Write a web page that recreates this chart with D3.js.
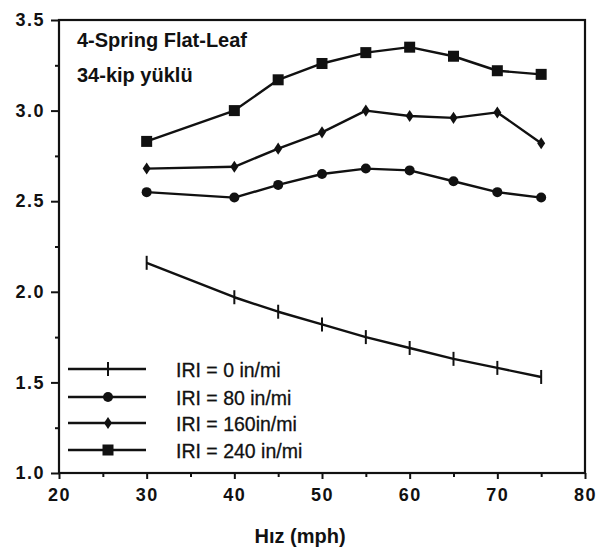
<!DOCTYPE html>
<html><head><meta charset="utf-8">
<script src="https://cdn.jsdelivr.net/npm/d3@7"></script>
<style>body{margin:0;background:#fff}svg{display:block}</style>
</head><body>
<script>
const speeds = [30, 40, 45, 50, 55, 60, 65, 70, 75];
const iri0   = [2.16, 1.97, 1.89, 1.82, 1.75, 1.69, 1.63, 1.58, 1.53];
const iri80  = [2.55, 2.52, 2.59, 2.65, 2.68, 2.67, 2.61, 2.55, 2.52];
const iri160 = [2.68, 2.69, 2.79, 2.88, 3.00, 2.97, 2.96, 2.99, 2.82];
const iri240 = [2.83, 3.00, 3.17, 3.26, 3.32, 3.35, 3.30, 3.22, 3.20];
const seriesNames = ["IRI = 0 in/mi", "IRI = 80 in/mi", "IRI = 160in/mi", "IRI = 240 in/mi"];
const seriesMarkers = ["cross", "circle", "diamond", "square"];
const xTicks = [20, 30, 40, 50, 60, 70, 80];
const yTicks = [1.0, 1.5, 2.0, 2.5, 3.0, 3.5];
const titleLines = ["4-Spring Flat-Leaf", "34-kip yüklü"];
const xLabel = "Hız (mph)";

const W = 603, H = 550;
const svg = d3.select("body").append("svg").attr("width", W).attr("height", H);
const x = d3.scaleLinear().domain([20, 80]).range([59, 585]);
const y = d3.scaleLinear().domain([1, 3.5]).range([473, 20]);
const font = "'Liberation Sans', Arial, sans-serif";
const ink = "#111";

// frame
svg.append("rect").attr("x", x(20)).attr("y", y(3.5)).attr("width", x(80) - x(20)).attr("height", y(1) - y(3.5))
  .attr("fill", "none").attr("stroke", ink).attr("stroke-width", 2.2);

// x axis
const xAx = svg.append("g").attr("transform", `translate(0,${y(1)})`)
  .call(d3.axisBottom(x).tickValues(xTicks).tickFormat(d3.format("d")).tickSize(6).tickPadding(9));
const xMinor = svg.append("g").attr("transform", `translate(0,${y(1)})`)
  .call(d3.axisBottom(x).tickValues(d3.range(25, 80, 10)).tickFormat("").tickSize(4));
// y axis
const yAx = svg.append("g").attr("transform", `translate(${x(20)},0)`)
  .call(d3.axisLeft(y).tickValues(yTicks).tickFormat(d3.format(".1f")).tickSize(8).tickPadding(6));
const yMinor = svg.append("g").attr("transform", `translate(${x(20)},0)`)
  .call(d3.axisLeft(y).tickValues(d3.range(1.25, 3.5, 0.5)).tickFormat("").tickSize(4));
[xAx, xMinor, yAx, yMinor].forEach(g => {
  g.select(".domain").remove();
  g.selectAll("line").attr("stroke", ink).attr("stroke-width", 2);
  g.selectAll("text").attr("font-family", font).attr("font-size", 18).attr("font-weight", "bold")
    .attr("fill", ink).attr("letter-spacing", 1.5);
});

// series
const allSeries = [iri0, iri80, iri160, iri240];
const line = d3.line().x((d, i) => x(speeds[i])).y(d => y(d));
function marker(g, type, cx, cy) {
  if (type === "cross") {
    g.append("line").attr("x1", cx).attr("x2", cx).attr("y1", cy - 7).attr("y2", cy + 7)
      .attr("stroke", ink).attr("stroke-width", 2);
  } else if (type === "circle") {
    g.append("circle").attr("cx", cx).attr("cy", cy).attr("r", 5).attr("fill", ink);
  } else if (type === "diamond") {
    g.append("path").attr("d", d3.symbol(d3.symbolDiamond, 42)()).attr("transform", `translate(${cx},${cy}) scale(1.15,1)`).attr("fill", ink);
  } else if (type === "square") {
    g.append("rect").attr("x", cx - 5.5).attr("y", cy - 5.5).attr("width", 11).attr("height", 11).attr("fill", ink);
  }
}
allSeries.forEach((vals, si) => {
  const g = svg.append("g");
  g.append("path").attr("d", line(vals)).attr("fill", "none").attr("stroke", ink).attr("stroke-width", 2.4)
    .attr("stroke-linejoin", "round");
  vals.forEach((v, i) => marker(g, seriesMarkers[si], x(speeds[i]), y(v)));
});

// legend
const legY = [369, 397, 423, 450];
seriesNames.forEach((name, i) => {
  const g = svg.append("g");
  g.append("line").attr("x1", 68).attr("x2", 146).attr("y1", legY[i]).attr("y2", legY[i])
    .attr("stroke", ink).attr("stroke-width", 2.4);
  marker(g, seriesMarkers[i], 108, legY[i]);
  g.append("text").attr("x", 176).attr("y", legY[i] + 7.5).text(name)
    .attr("font-family", font).attr("font-size", 19.5).attr("fill", ink).attr("stroke", ink).attr("stroke-width", 0.3);
});

// title text
const titleY = [47, 82];
titleLines.forEach((t, i) => {
  svg.append("text").attr("x", 77).attr("y", titleY[i]).text(t)
    .attr("font-family", font).attr("font-size", 20).attr("font-weight", "bold").attr("fill", ink);
});

// x label
svg.append("text").attr("x", 300).attr("y", 543).attr("text-anchor", "middle").text(xLabel)
  .attr("font-family", font).attr("font-size", 20).attr("font-weight", "bold").attr("fill", ink);
</script>
</body></html>
